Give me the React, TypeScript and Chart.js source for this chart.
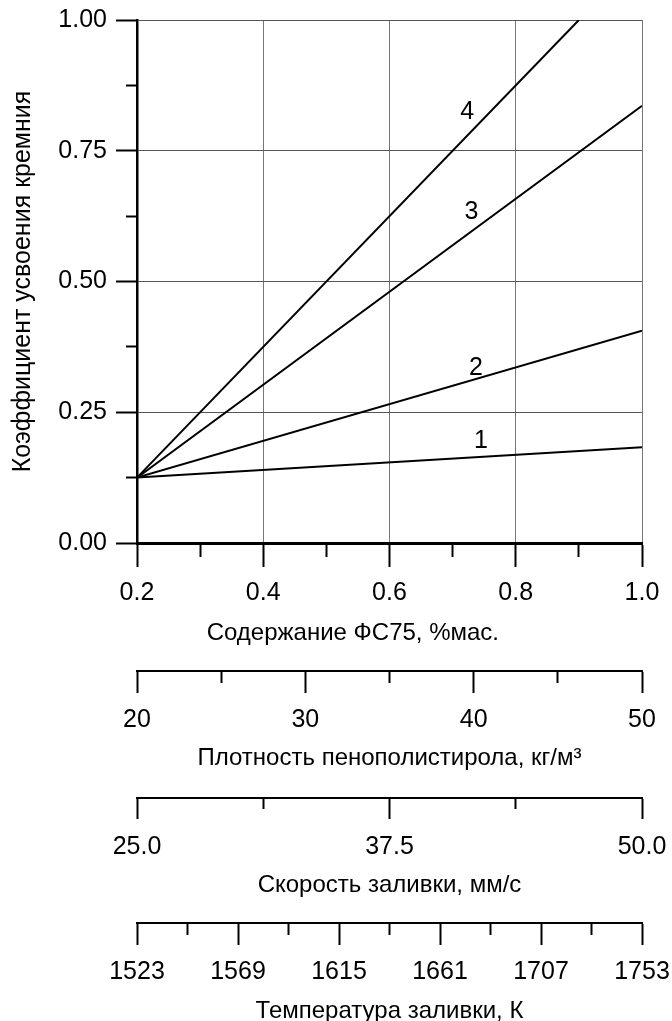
import React, { useEffect, useRef } from 'react';
import { Chart, registerables } from 'chart.js';

Chart.register(...registerables);

const FONT = "'Liberation Sans', Arial, Helvetica, sans-serif";
const GRID_V = '#777777';
const GRID_H = '#555555';
const CLEAR = 'rgba(0,0,0,0)';

// ---- data ----
const curve1X = [0.2, 1.0];
const curve1Y = [0.125, 0.183];
const curve2X = [0.2, 1.0];
const curve2Y = [0.125, 0.406];
const curve3X = [0.2, 1.0];
const curve3Y = [0.125, 0.836];
const curve4X = [0.2, 0.9];
const curve4Y = [0.125, 1.0];

const curveNames = ['1', '2', '3', '4'];
const curveLabelX = [0.745, 0.737, 0.73, 0.723];
const curveLabelY = [0.194, 0.335, 0.633, 0.824];

// ---- ticks ----
const yMajorTicks = [0, 0.25, 0.5, 0.75, 1.0];
const yMajorLabels = ['0.00', '0.25', '0.50', '0.75', '1.00'];
const yMinorTicks = [0.125, 0.375, 0.625, 0.875];

const xMajorTicks = [0.2, 0.4, 0.6, 0.8, 1.0];
const xMajorLabels = ['0.2', '0.4', '0.6', '0.8', '1.0'];
const xMinorTicks = [0.3, 0.5, 0.7, 0.9];

const densityMajorTicks = [20, 30, 40, 50];
const densityMajorLabels = ['20', '30', '40', '50'];
const densityMinorTicks = [25, 35, 45];

const speedMajorTicks = [25, 37.5, 50];
const speedMajorLabels = ['25.0', '37.5', '50.0'];
const speedMinorTicks = [31.25, 43.75];

const tempMajorTicks = [1523, 1569, 1615, 1661, 1707, 1753];
const tempMajorLabels = ['1523', '1569', '1615', '1661', '1707', '1753'];
const tempMinorTicks = [1546, 1592, 1638, 1684, 1730];

// ---- titles ----
const yTitle = 'Коэффициент усвоения кремния';
const xTitle = 'Содержание ФС75, %мас.';
const densityTitle = 'Плотность пенополистирола, кг/м³';
const speedTitle = 'Скорость заливки, мм/с';
const tempTitle = 'Температура заливки, К';

const isMajor = (v: number, majors: number[]) => majors.some((m) => Math.abs(m - v) < 1e-9);
const labelFor = (v: number, majors: number[], labels: string[]) => {
  const i = majors.findIndex((m) => Math.abs(m - v) < 1e-9);
  return i >= 0 ? labels[i] : '';
};

function bottomAxis(o: any) {
  const all = [...o.majors, ...o.minors].sort((a: number, b: number) => a - b);
  return {
    type: 'linear',
    position: 'bottom',
    min: o.min,
    max: o.max,
    weight: o.weight,
    afterBuildTicks: (s: any) => {
      s.ticks = all.map((v: number) => ({ value: v }));
    },
    afterFit: (s: any) => {
      s.height = o.height;
      s.paddingLeft = 0;
      s.paddingRight = 0;
    },
    border: { display: true, color: '#000', width: o.borderWidth },
    grid: {
      display: true,
      drawOnChartArea: !!o.main,
      drawTicks: true,
      tickLength: o.tickLength,
      tickWidth: 2,
      tickColor: '#000',
      lineWidth: 1,
      color: (ctx: any) =>
        o.main && ctx.tick && isMajor(ctx.tick.value, o.majors) && Math.abs(ctx.tick.value - o.min) > 1e-9
          ? GRID_V
          : CLEAR,
      tickBorderDash: (ctx: any) =>
        ctx.tick && isMajor(ctx.tick.value, o.majors) ? [] : [o.minorLength, 300],
    },
    ticks: {
      autoSkip: false,
      maxRotation: 0,
      minRotation: 0,
      padding: o.tickPad,
      color: '#000',
      font: { family: FONT, size: 25 },
      callback: (v: any) => labelFor(Number(v), o.majors, o.labels),
    },
    title: {
      display: true,
      text: o.title,
      color: '#000',
      font: { family: FONT, size: 24 },
      padding: { top: 0, bottom: o.titlePadBottom },
    },
  };
}

const curveLabelsPlugin = {
  id: 'curveLabels',
  afterDatasetsDraw(chart: any) {
    const { ctx, scales } = chart;
    const x = scales.x;
    const y = scales.y;
    ctx.save();
    ctx.font = `25px ${FONT}`;
    ctx.fillStyle = '#000';
    ctx.textAlign = 'center';
    ctx.textBaseline = 'middle';
    curveNames.forEach((n, i) => {
      ctx.fillText(n, x.getPixelForValue(curveLabelX[i]), y.getPixelForValue(curveLabelY[i]));
    });
    ctx.restore();
  },
};

const toPoints = (xs: number[], ys: number[]) => xs.map((xv, i) => ({ x: xv, y: ys[i] }));

export default function App() {
  const ref = useRef<HTMLCanvasElement>(null);

  useEffect(() => {
    const yAll = [...yMajorTicks, ...yMinorTicks].sort((a, b) => a - b);
    const line = (xs: number[], ys: number[], w: number) => ({
      data: toPoints(xs, ys),
      showLine: true,
      borderColor: '#000',
      backgroundColor: '#000',
      borderWidth: w,
      pointRadius: 0,
      pointHoverRadius: 0,
      fill: false,
    });
    const chart = new Chart(ref.current as HTMLCanvasElement, {
      type: 'scatter',
      data: {
        datasets: [
          line(curve1X, curve1Y, 2),
          line(curve2X, curve2Y, 2),
          line(curve3X, curve3Y, 2),
          line(curve4X, curve4Y, 2),
        ],
      },
      options: {
        animation: false,
        responsive: false,
        devicePixelRatio: 1,
        layout: { padding: { left: 0, right: 30, top: 20, bottom: 0 } },
        plugins: { legend: { display: false }, tooltip: { enabled: false } },
        scales: {
          x: bottomAxis({
            main: true, min: 0.2, max: 1.0, weight: 0, height: 128,
            majors: xMajorTicks, labels: xMajorLabels, minors: xMinorTicks,
            tickLength: 24, minorLength: 12, tickPad: 11, borderWidth: 3,
            title: xTitle + '           ', titlePadBottom: 23.6,
          }),
          x2: bottomAxis({
            min: 20, max: 50, weight: 1, height: 127,
            majors: densityMajorTicks, labels: densityMajorLabels, minors: densityMinorTicks,
            tickLength: 22, minorLength: 11, tickPad: 12, borderWidth: 2,
            title: densityTitle, titlePadBottom: 25.6,
          }),
          x3: bottomAxis({
            min: 25, max: 50, weight: 2, height: 125,
            majors: speedMajorTicks, labels: speedMajorLabels, minors: speedMinorTicks,
            tickLength: 21, minorLength: 10, tickPad: 13, borderWidth: 2,
            title: speedTitle, titlePadBottom: 23.6,
          }),
          x4: bottomAxis({
            min: 1523, max: 1753, weight: 3, height: 98,
            majors: tempMajorTicks, labels: tempMajorLabels, minors: tempMinorTicks,
            tickLength: 22, minorLength: 11, tickPad: 12, borderWidth: 2,
            title: tempTitle, titlePadBottom: -4.4,
          }),
          y: {
            type: 'linear',
            position: 'left',
            min: 0,
            max: 1,
            afterBuildTicks: (s: any) => {
              s.ticks = yAll.map((v) => ({ value: v }));
            },
            afterFit: (s: any) => {
              s.width = 137;
              s.paddingTop = 0;
              s.paddingBottom = 0;
            },
            border: { display: true, color: '#000', width: 2.5 },
            grid: {
              display: true,
              drawOnChartArea: true,
              drawTicks: true,
              tickLength: 21,
              tickWidth: 2,
              tickColor: '#000',
              lineWidth: 1,
              color: (ctx: any) =>
                ctx.tick && isMajor(ctx.tick.value, yMajorTicks) && ctx.tick.value > 1e-9 ? GRID_H : CLEAR,
              tickBorderDash: (ctx: any) =>
                ctx.tick && isMajor(ctx.tick.value, yMajorTicks) ? [] : [0, 10, 12, 300],
            },
            ticks: {
              autoSkip: false,
              padding: 9,
              color: '#000',
              font: { family: FONT, size: 25 },
              callback: (v: any) => labelFor(Number(v), yMajorTicks, yMajorLabels),
            },
            title: {
              display: true,
              text: yTitle,
              color: '#000',
              font: { family: FONT, size: 25 },
              padding: { top: 8, bottom: 0 },
            },
          },
        } as any,
      },
      plugins: [curveLabelsPlugin],
    } as any);
    return () => chart.destroy();
  }, []);

  return (
    <div style={{ position: 'absolute', left: 0, top: 0, width: 672, height: 1021, background: '#fff' }}>
      <canvas ref={ref} width={672} height={1021} style={{ display: 'block', width: 672, height: 1021 }} />
    </div>
  );
}
